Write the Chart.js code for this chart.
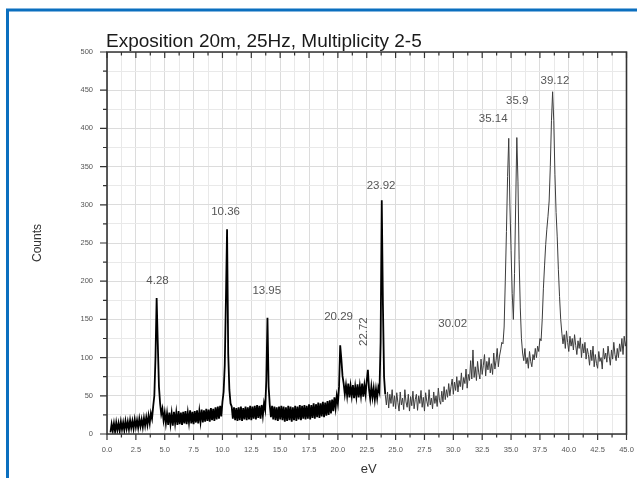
<!DOCTYPE html>
<html><head><meta charset="utf-8">
<script src="https://cdn.jsdelivr.net/npm/chart.js@4.4.0/dist/chart.umd.min.js"></script>
<style>html,body{margin:0;padding:0;background:#fff;overflow:hidden}canvas{display:block}</style>
</head><body>
<canvas id="c" width="637" height="478" style="width:637px;height:478px"></canvas>
<script>
const chartTitle = 'Exposition 20m, 25Hz, Multiplicity 2-5';
const xAxisTitle = 'eV';
const yAxisTitle = 'Counts';
const xTickLabels = ['0.0','2.5','5.0','7.5','10.0','12.5','15.0','17.5','20.0','22.5','25.0','27.5','30.0','32.5','35.0','37.5','40.0','42.5','45.0'];
const yTickLabels = ['0','50','100','150','200','250','300','350','400','450','500'];
const energyStart = 0.3;
const energyStep = 0.1;
const counts = [
  2,13,4,14,3,15,5,14,4,16,
  6,15,5,17,7,16,6,18,8,17,
  7,19,9,18,8,20,10,19,9,21,
  11,22,12,24,14,27,20,36,50,100,
  178,118,62,40,26,33,18,28,14,27,
  12,28,13,27,11,29,14,28,12,30,
  13,28,12,29,14,30,13,28,15,31,
  14,29,13,30,15,31,14,30,16,32,
  15,31,16,33,17,32,16,34,18,33,
  17,35,19,36,20,37,23,42,55,90,
  175,268,105,58,40,36,20,35,18,34,
  17,35,18,36,17,34,19,36,18,35,
  19,37,18,36,20,37,19,38,21,37,
  20,38,24,40,32,70,152,62,38,22,
  37,19,36,18,35,17,36,19,37,18,
  36,16,35,17,37,18,36,16,35,18,
  37,17,36,19,38,18,37,20,38,19,
  37,20,39,19,38,21,40,20,39,22,
  41,21,40,23,42,22,41,24,43,25,
  44,27,45,30,48,34,50,40,62,116,
  98,76,66,52,64,50,66,48,63,50,
  64,47,62,49,65,48,63,50,66,49,
  64,52,70,84,58,46,62,48,60,45,
  59,47,61,55,120,306,170,75,52,38,
  55,34,52,40,58,36,50,33,54,41,
  30,55,38,47,32,58,42,35,52,30,
  49,37,56,33,45,52,31,50,40,57,
  35,48,30,54,43,36,58,38,47,33,
  55,40,50,36,60,44,39,56,42,62,
  45,58,48,66,50,62,72,52,68,57,
  75,55,70,62,80,58,74,66,85,60,
  78,70,96,72,110,74,88,70,95,80,
  72,98,78,90,104,76,95,84,100,80,
  92,78,106,85,96,112,88,102,110,120,
  118,140,200,265,337,387,300,240,184,150,
  210,300,388,330,228,165,125,106,96,112,
  92,100,86,108,95,88,104,97,112,100,
  115,108,125,122,150,190,220,248,268,285,
  305,350,410,448,410,340,290,258,215,180,
  150,132,118,130,112,135,120,108,128,115,
  125,110,130,116,104,122,112,126,100,118,
  106,120,98,112,104,90,110,96,115,88,
  104,92,86,108,95,100,85,112,98,106,
  94,115,102,90,110,98,120,104,96,112,
  100,118,108,125,104,128,115,122
];
const peakLabels = ['4.28','10.36','13.95','20.29','22.72','23.92','30.02','35.14','35.9','39.12'];
const peakLabelEnergy = [4.38, 10.27, 13.84, 20.06, 22.21, 23.74, 29.94, 33.45, 35.53, 38.8];
const peakLabelCounts = [200, 291, 187, 153, 134, 325, 144, 412, 436, 462];
const peakLabelVertical = [false,false,false,false,true,false,false,false,false,false];

const FONT = '"Liberation Sans", Arial, sans-serif';
const points = counts.map((c, i) => ({ x: +(energyStart + i * energyStep).toFixed(2), y: c }));

const decor = {
  id: 'decor',
  beforeDraw(chart) {
    const ctx = chart.ctx;
    ctx.save();
    ctx.fillStyle = '#fff';
    ctx.fillRect(0, 0, chart.width, chart.height);
    ctx.strokeStyle = '#0b6fbf';
    ctx.lineWidth = 3;
    ctx.beginPath();
    ctx.moveTo(7.5, chart.height);
    ctx.lineTo(7.5, 10);
    ctx.lineTo(chart.width, 10);
    ctx.stroke();
    ctx.restore();
  },
  afterDraw(chart) {
    const ctx = chart.ctx;
    const xs = chart.scales.x, ys = chart.scales.y;
    const a = chart.chartArea;
    ctx.save();
    ctx.strokeStyle = '#333';
    ctx.lineWidth = 1.6;
    ctx.beginPath();
    ctx.rect(a.left, a.top, a.right - a.left, a.bottom - a.top);
    ctx.stroke();
    ctx.lineWidth = 1.2;
    ctx.beginPath();
    xs.ticks.forEach(t => {
      const px = xs.getPixelForValue(t.value);
      const major = Number.isInteger(t.value / 2.5);
      const len = major ? 6 : 3.5;
      ctx.moveTo(px, a.bottom); ctx.lineTo(px, a.bottom + len);
      ctx.moveTo(px, a.top); ctx.lineTo(px, a.top + len);
    });
    ys.ticks.forEach(t => {
      const py = ys.getPixelForValue(t.value);
      const major = Number.isInteger(t.value / 50);
      const len = major ? 7 : 4;
      ctx.moveTo(a.left - len, py); ctx.lineTo(a.left, py);
    });
    ctx.stroke();
    ctx.fillStyle = '#1a1a1a';
    ctx.font = '19px ' + FONT;
    ctx.textAlign = 'left';
    ctx.textBaseline = 'alphabetic';
    ctx.fillText(chartTitle, a.left - 1, 47);
    ctx.fillStyle = '#333';
    ctx.font = '12px ' + FONT;
    ctx.textAlign = 'center';
    ctx.textBaseline = 'middle';
    ctx.save();
    ctx.translate(38, (a.top + a.bottom) / 2);
    ctx.rotate(-Math.PI / 2);
    ctx.fillText(yAxisTitle, 0, 0);
    ctx.restore();
    ctx.font = '13px ' + FONT;
    ctx.fillText(xAxisTitle, (a.left + a.right) / 2 + 2, 469);
    ctx.fillStyle = '#555';
    ctx.font = '11.5px ' + FONT;
    peakLabels.forEach((txt, i) => {
      const px = xs.getPixelForValue(peakLabelEnergy[i]);
      const py = ys.getPixelForValue(peakLabelCounts[i]);
      if (peakLabelVertical[i]) {
        ctx.save();
        ctx.translate(px, py);
        ctx.rotate(-Math.PI / 2);
        ctx.fillText(txt, 0, 0);
        ctx.restore();
      } else {
        ctx.fillText(txt, px, py);
      }
    });
    ctx.restore();
  }
};

new Chart(document.getElementById('c'), {
  type: 'line',
  data: {
    datasets: [{
      data: points,
      borderColor: '#111',
      borderWidth: 1,
      pointRadius: 0,
      tension: 0,
      fill: false,
      segment: {
        borderColor: c => (c.p0.parsed.x >= 24.1 ? '#3c3c3c' : '#000'),
        borderWidth: c => (c.p0.parsed.x >= 24.1 ? 1 : 1.8)
      }
    }]
  },
  options: {
    responsive: false,
    animation: false,
    devicePixelRatio: 1,
    layout: { padding: { top: 52, right: 10.5, left: 0, bottom: 0 } },
    plugins: { legend: { display: false }, tooltip: { enabled: false }, title: { display: false } },
    scales: {
      x: {
        type: 'linear', min: 0, max: 45,
        afterFit: s => { s.height = 44; s.paddingLeft = 0; s.paddingRight = 0; },
        border: { display: false },
        grid: { drawTicks: false, lineWidth: 1, color: c => (Number.isInteger(c.tick.value / 2.5) ? '#dcdcdc' : '#e9e9e9') },
        ticks: {
          stepSize: 1.25, autoSkip: false, maxRotation: 0, minRotation: 0, padding: 11.5,
          color: '#555', font: { family: FONT, size: 7.5 },
          callback: v => (Number.isInteger(v / 2.5) ? xTickLabels[v / 2.5] : '')
        }
      },
      y: {
        min: 0, max: 500,
        afterFit: s => { s.width = 107; s.paddingTop = 0; s.paddingBottom = 0; },
        border: { display: false },
        grid: { drawTicks: false, lineWidth: 1, color: c => (Number.isInteger(c.tick.value / 50) ? '#dcdcdc' : '#e9e9e9') },
        ticks: {
          stepSize: 25, autoSkip: false, padding: 14,
          color: '#555', font: { family: FONT, size: 7.5 },
          callback: v => (Number.isInteger(v / 50) ? yTickLabels[v / 50] : '')
        }
      }
    }
  },
  plugins: [decor]
});
</script>
</body></html>
